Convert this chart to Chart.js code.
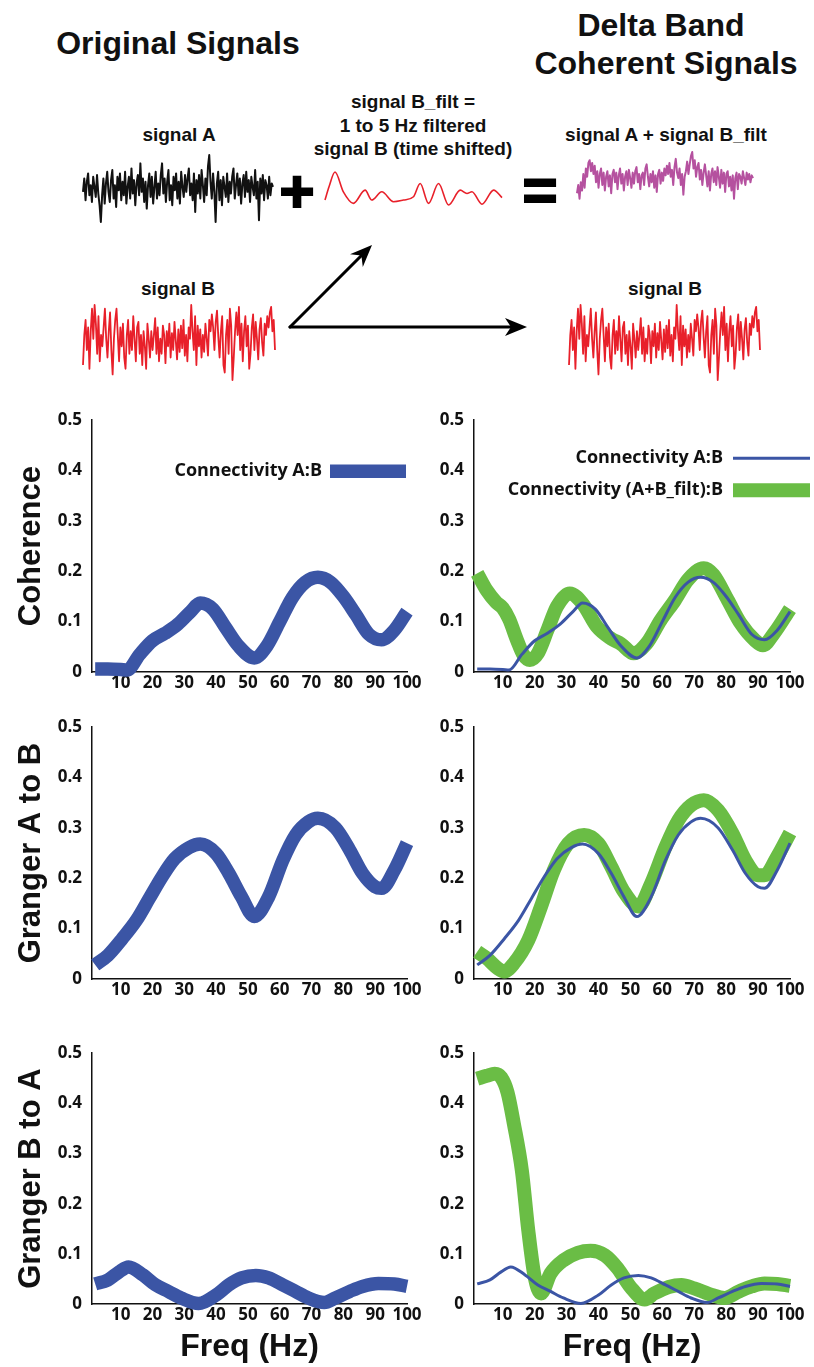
<!DOCTYPE html>
<html><head><meta charset="utf-8">
<script src="https://cdn.jsdelivr.net/npm/chart.js@4.4.1/dist/chart.umd.min.js"></script>
<style>
html,body{margin:0;padding:0;background:#fff;}
#wrap{position:relative;width:814px;height:1367px;overflow:hidden;background:#fff;}
canvas{position:absolute;}
.t{position:absolute;transform:translate(-50%,-50%);white-space:nowrap;line-height:1;font-family:'Liberation Sans',Arial,Helvetica,sans-serif;font-weight:bold;color:#111;}
.big{font-size:32px;}
.sm{font-size:19px;}
.op{font-size:60px;-webkit-text-stroke:2px #000;color:#000;}
</style></head><body><div id="wrap">
<div class="t big" style="left:178px;top:43px;">Original Signals</div>
<div class="t big" style="left:661px;top:25px;">Delta Band</div>
<div class="t big" style="left:666px;top:63px;">Coherent Signals</div>
<div class="t sm" style="left:179px;top:134px;">signal A</div>
<div class="t sm" style="left:413px;top:101px;">signal B_filt =</div>
<div class="t sm" style="left:413px;top:124.5px;">1 to 5 Hz filtered</div>
<div class="t sm" style="left:413px;top:148px;">signal B (time shifted)</div>
<div class="t sm" style="left:666px;top:134px;">signal A + signal B_filt</div>
<div class="t sm" style="left:178px;top:288px;">signal B</div>
<div class="t sm" style="left:665px;top:288px;">signal B</div>
<div class="t op" style="left:297px;top:192px;">+</div>
<div class="t op" style="left:540px;top:190px;">=</div>
<svg width="814" height="400" style="position:absolute;left:0;top:0">
 <line x1="290" y1="327" x2="512" y2="327" stroke="#000" stroke-width="3" stroke-linecap="round"/>
 <polygon points="527,327 505,336 511,327 505,318" fill="#000"/>
 <line x1="290" y1="327" x2="362" y2="255" stroke="#000" stroke-width="3" stroke-linecap="round"/>
 <polygon points="372,245 362.8,267 361.4,255.6 350,254.2" fill="#000"/>
</svg>
<canvas id="sA" width="194" height="71" style="left:81px;top:153px"></canvas>
<canvas id="sBf" width="181" height="37" style="left:323px;top:170px"></canvas>
<canvas id="sAB" width="180" height="59" style="left:575px;top:150px"></canvas>
<canvas id="sB1" width="196" height="79" style="left:81px;top:303px"></canvas>
<canvas id="sB2" width="195" height="79" style="left:567px;top:303px"></canvas>
<canvas id="p11" width="430" height="302" style="left:0px;top:400px"></canvas>
<canvas id="p12" width="414" height="302" style="left:400px;top:400px"></canvas>
<canvas id="p21" width="430" height="302" style="left:0px;top:707px"></canvas>
<canvas id="p22" width="414" height="302" style="left:400px;top:707px"></canvas>
<canvas id="p31" width="430" height="334" style="left:0px;top:1033px"></canvas>
<canvas id="p32" width="414" height="334" style="left:400px;top:1033px"></canvas>
</div>
<script>
// ---------- tick labels ----------
const freqTicks = [10, 20, 30, 40, 50, 60, 70, 80, 90, 100];
const valueTicks = [0, 0.1, 0.2, 0.3, 0.4, 0.5];
const yTitles = ['Coherence', 'Granger A to B', 'Granger B to A'];
const xTitle = 'Freq (Hz)';
const labelAB = 'Connectivity A:B';
const labelABfilt = 'Connectivity (A+B_filt):B';

// ---------- Coherence ----------
const cohABFreq = [2, 6, 10, 12, 16, 20, 24, 28, 32, 35, 39, 43, 47, 52, 56, 60, 64, 68, 72, 76, 80, 84, 88, 92, 96, 100];
const cohAB = [0.006, 0.006, 0.005, 0.004, 0.035, 0.062, 0.077, 0.095, 0.12, 0.137, 0.125, 0.088, 0.052, 0.028, 0.052, 0.10, 0.148, 0.178, 0.188, 0.178, 0.150, 0.113, 0.075, 0.064, 0.083, 0.12];
const cohABfiltFreq = [2, 5, 8, 10, 12, 14.5, 16.5, 18.5, 21, 24, 27, 31, 35, 39.5, 44, 47, 51, 55, 59.5, 64, 68, 73, 76, 80.5, 84.5, 89, 91.5, 95, 100];
const cohABfilt = [0.196, 0.162, 0.138, 0.127, 0.105, 0.063, 0.034, 0.024, 0.037, 0.083, 0.13, 0.156, 0.136, 0.09, 0.066, 0.056, 0.037, 0.056, 0.103, 0.143, 0.183, 0.206, 0.193, 0.143, 0.097, 0.063, 0.053, 0.077, 0.125];

// ---------- Granger A to B ----------
const gAtoBFreq = [2, 6, 10.5, 15, 19, 23, 27, 31.5, 35, 40, 44, 48, 52, 56.5, 61, 65, 69, 72, 77.5, 82, 86, 90, 92, 96, 100];
const gAtoB = [0.028, 0.047, 0.08, 0.117, 0.16, 0.203, 0.239, 0.261, 0.268, 0.249, 0.21, 0.163, 0.124, 0.163, 0.236, 0.286, 0.312, 0.319, 0.30, 0.256, 0.21, 0.183, 0.18, 0.216, 0.27];
const gAtoBfiltFreq = [2, 5, 8.5, 10.5, 13.5, 18, 22, 26, 30.5, 35.5, 40, 44, 48, 52.5, 56.5, 61, 65, 69, 73, 77.5, 82, 86, 90, 92, 96, 100];
const gAtoBfilt = [0.054, 0.041, 0.021, 0.015, 0.031, 0.077, 0.144, 0.216, 0.269, 0.286, 0.269, 0.223, 0.173, 0.144, 0.19, 0.262, 0.315, 0.345, 0.355, 0.335, 0.289, 0.236, 0.206, 0.206, 0.243, 0.29];

// ---------- Granger B to A ----------
const gBtoAFreq = [2, 6, 9.5, 12.5, 17, 21, 25, 29, 34.5, 40, 44, 48, 52.5, 56.5, 61, 65, 69, 74, 77.5, 82, 86, 91, 96, 100];
const gBtoA = [0.04, 0.048, 0.064, 0.074, 0.058, 0.038, 0.025, 0.012, 0.001, 0.018, 0.038, 0.052, 0.057, 0.052, 0.038, 0.025, 0.012, 0.003, 0.012, 0.025, 0.035, 0.041, 0.04, 0.035];
const gBtoAfiltFreq = [2, 5, 7.5, 9.5, 11.5, 13.5, 16, 18, 20, 22, 25, 29, 33.5, 37.5, 42, 46, 50, 54.5, 57.5, 62, 66, 70, 75.5, 79.5, 84, 88, 92, 96, 100];
const gBtoAfilt = [0.449, 0.455, 0.459, 0.452, 0.422, 0.359, 0.266, 0.147, 0.054, 0.021, 0.061, 0.087, 0.102, 0.106, 0.097, 0.071, 0.034, 0.009, 0.021, 0.034, 0.038, 0.031, 0.018, 0.012, 0.025, 0.035, 0.041, 0.04, 0.036];

// ---------- example signals (arbitrary units) ----------
const signalA = [
 -10, 30, -35, 20, 45, -20, 10, -40, 35, 5,
 -25, 40, -15, -50, -100, -20, 30, -45, 15, 50,
 -10, -40, 25, 55, -30, 10, -55, 35, -5, 45,
 -35, 20, -20, 50, -45, 5, 35, -30, 60, -15,
 25, -50, 15, 40, -20, 75, -10, 30, -40, 20,
 -60, 10, 45, -25, 35, -45, 5, 50, -30, 15,
 -20, 40, 75, -15, 30, -40, 20, 55, -35, 10,
 -50, 35, -5, 45, -30, 20, -45, 50, 5, -25,
 40, -10, 30, 60, -20, 15, -35, 45, -70, 25,
 -15, 40, -30, 55, 10, -40, 30, -20, 65, 100,
 20, -30, 45, -10, -100, 15, 50, -35, 25, -50,
 35, 5, -25, 45, -40, 20, -15, 35, 60, -30,
 10, 45, -20, 30, -45, 15, 40, -25, 50, -10,
 25, -40, 35, 5, -20, 55, -30, 20, -95, 30,
 -15, 40, -35, 25, 10, -30, 35, -20, 15, 5
];
const signalB = [
 -60, 20, 60, -20, 40, -70, 30, 90, 10, 100,
 50, -30, 70, -50, 20, -10, 40, 90, 10, -40,
 30, 80, -20, -85, 10, 60, 90, 20, -50, 40,
 -10, 50, -40, -70, 20, 60, -30, 30, -20, 70,
 10, -50, 40, 55, -30, 20, -60, 30, -10, -70,
 50, 10, -40, 30, -20, 20, 65, -30, 40, -50,
 10, -30, 45, 20, -55, 30, -10, 50, -40, 25,
 -20, 55, 5, -45, 35, -25, 45, -15, 60, -35,
 20, -50, 40, 10, 100, 30, -20, 70, -60, 45,
 -10, 35, -40, 20, -25, 50, 10, -35, 60, 30,
 75, 40, -20, 55, 85, 15, -40, 30, 70, -60,
 -80, 20, 60, -30, 90, 45, -100, -40, 30, 80,
 20, 95, -20, 50, -50, 30, 70, -10, 45, -70,
 -30, 40, 75, -20, 55, 10, -45, 35, 65, 0,
 -35, 50, 20, 70, 40, 80, 95, 30, 60, -20
];
const signalAplusBfilt = [
 -50, -20, -70, -10, -40, 20, -30, 40, 10, 60,
 70, 30, 60, 20, 50, -10, 30, -30, 20, 40,
 -20, 25, -40, 10, 30, -25, 15, -50, 20, 35,
 -10, 25, -35, 15, 40, -15, 20, -40, 10, 30,
 -20, 35, 5, -30, 25, -15, 30, 45, -10, 20,
 -35, 15, 25, -20, 40, 55, 10, -25, 20, -10,
 30, -30, 15, -45, 20, 35, -15, 25, -5, 40,
 15, 50, 20, 60, 10, 35, -20, 45, 75, 25,
 5, 40, -20, 20, -55, 10, 30, 65, 20, 55,
 85, 100, 40, 70, 10, 45, 60, 0, 35, -20,
 25, 55, 15, -25, 30, -40, 20, 40, -10, 30,
 -20, 45, 10, -30, 35, -15, 25, -45, 20, 30,
 -25, 10, -40, 15, -70, 5, 25, -35, 20, 10,
 -15, 30, 5, -20, 25, 0, 20, -10, 15, 5
];
const bFiltTime = [0, 12, 30, 55, 85, 120, 140, 170, 205, 235, 265, 285, 310, 340, 370, 405, 425, 440, 470, 505, 530];
const bFiltValue = [-0.7, 0.1, 1.0, -0.2, -0.9, -0.1, -0.7, -0.2, -0.8, -0.7, -0.5, 0.3, -0.9, 0.3, -1.0, -0.1, -0.3, -0.2, -0.95, -0.1, -0.55];

// ---------- colours ----------
const BLUE = '#3b55a5';
const GREEN = '#6abd45';

Chart.defaults.font.family = "'Open Sans', 'DejaVu Sans', sans-serif";
Chart.defaults.color = '#111';

function pts(xs, ys) { return xs.map((x, i) => ({ x: x, y: ys[i] })); }

// ---------- small signal traces ----------
function signalChart(id, values, color, width, xs, yLim) {
  const data = xs ? pts(xs, values) : values.map((v, i) => ({ x: i, y: v }));
  const xmax = xs ? xs[xs.length - 1] : values.length - 1;
  new Chart(document.getElementById(id), {
    type: 'line',
    data: { datasets: [{ data: data, borderColor: color, borderWidth: width, pointRadius: 0, fill: false,
      cubicInterpolationMode: xs ? 'monotone' : 'default', tension: 0, clip: false, borderJoinStyle: 'round' }] },
    options: {
      responsive: false, animation: false, devicePixelRatio: 1,
      layout: { padding: 2 },
      plugins: { legend: { display: false }, tooltip: { enabled: false } },
      scales: {
        x: { type: 'linear', display: false, min: 0, max: xmax },
        y: { display: false, min: -yLim, max: yLim }
      }
    }
  });
}
signalChart('sA', signalA, '#111111', 2, null, 100);
signalChart('sB1', signalB, '#e8202a', 1.8, null, 100);
signalChart('sB2', signalB, '#e8202a', 1.8, null, 100);
signalChart('sAB', signalAplusBfilt, '#b5519f', 2, null, 100);
signalChart('sBf', bFiltValue, '#e8202a', 1.6, bFiltTime, 1);

// ---------- legend drawn inside the plot ----------
const insideLegend = {
  id: 'insideLegend',
  afterDatasetsDraw(chart, args, opts) {
    if (!opts || !opts.show) return;
    const ctx = chart.ctx, ca = chart.chartArea;
    const swRight = ca.right + opts.offsetRight;
    const swLeft = swRight - opts.swatchWidth;
    ctx.save();
    ctx.font = "bold 18px 'Open Sans', sans-serif";
    ctx.textAlign = 'right';
    ctx.textBaseline = 'middle';
    chart.data.datasets.forEach((ds, i) => {
      const y = ca.top + opts.firstY + i * opts.spacing;
      ctx.fillStyle = '#111';
      ctx.fillText(ds.label, swLeft - opts.gap, y);
      ctx.strokeStyle = ds.borderColor;
      ctx.lineWidth = ds.borderWidth;
      ctx.lineCap = 'butt';
      ctx.beginPath();
      ctx.moveTo(swLeft, y);
      ctx.lineTo(swRight, y);
      ctx.stroke();
    });
    ctx.restore();
  }
};

const COLS = [
  { yW: 92, padRight: 23 },
  { yW: 74, padRight: 24 }
];
const XH = [30, 30, 63];

function panel(id, col, row, datasets, legendOpts) {
  const c = COLS[col];
  new Chart(document.getElementById(id), {
    type: 'line',
    data: { datasets: datasets },
    plugins: [insideLegend],
    options: {
      responsive: false, animation: false, devicePixelRatio: 1,
      layout: { padding: { left: 0, right: c.padRight, top: 20, bottom: 0 } },
      plugins: { legend: { display: false }, tooltip: { enabled: false }, insideLegend: legendOpts || { show: false } },
      scales: {
        x: {
          type: 'linear', min: 1, max: 100,
          grid: { display: false, drawTicks: false },
          border: { display: true, color: '#111', width: 1.5 },
          ticks: { padding: 1, font: { size: 17, weight: 'bold' }, color: '#111', maxRotation: 0, autoSkip: false },
          afterBuildTicks: s => { s.ticks = freqTicks.map(v => ({ value: v })); },
          afterFit: s => { s.height = XH[row]; },
          title: { display: row === 2, text: xTitle, color: '#111',
            font: { family: "'Liberation Sans', Arial, sans-serif", size: 32, weight: 'bold' }, padding: { top: 0, bottom: 1 } }
        },
        y: {
          min: 0, max: 0.5,
          grid: { display: false, drawTicks: false },
          border: { display: true, color: '#111', width: 1.5 },
          ticks: { padding: 10, font: { size: 17, weight: 'bold' }, color: '#111',
            callback: v => (v === 0 ? '0' : v.toFixed(1)) },
          afterBuildTicks: s => { s.ticks = valueTicks.map(v => ({ value: v })); },
          afterFit: s => { s.width = c.yW; },
          title: { display: col === 0, text: yTitles[row], color: '#111',
            font: { family: "'Liberation Sans', Arial, sans-serif", size: 31, weight: 'bold' }, padding: { top: 13, bottom: 0 } }
        }
      }
    }
  });
}

function lineDs(label, xs, ys, color, width) {
  return { label: label, data: pts(xs, ys), borderColor: color, backgroundColor: color, borderWidth: width,
    pointRadius: 0, fill: false, cubicInterpolationMode: 'monotone', clip: false, borderJoinStyle: 'round' };
}

panel('p11', 0, 0, [lineDs(labelAB, cohABFreq, cohAB, BLUE, 13.5)],
  { show: true, offsetRight: -1, swatchWidth: 76, gap: 8, firstY: 51, spacing: 32 });
panel('p12', 1, 0, [lineDs(labelAB, cohABFreq, cohAB, BLUE, 3), lineDs(labelABfilt, cohABfiltFreq, cohABfilt, GREEN, 14)],
  { show: true, offsetRight: 20, swatchWidth: 77, gap: 10, firstY: 38, spacing: 32 });
panel('p21', 0, 1, [lineDs(labelAB, gAtoBFreq, gAtoB, BLUE, 13.5)]);
panel('p22', 1, 1, [lineDs(labelAB, gAtoBFreq, gAtoB, BLUE, 3), lineDs(labelABfilt, gAtoBfiltFreq, gAtoBfilt, GREEN, 14)]);
panel('p31', 0, 2, [lineDs(labelAB, gBtoAFreq, gBtoA, BLUE, 13.5)]);
panel('p32', 1, 2, [lineDs(labelAB, gBtoAFreq, gBtoA, BLUE, 3), lineDs(labelABfilt, gBtoAfiltFreq, gBtoAfilt, GREEN, 14)]);
</script>
</body></html>
